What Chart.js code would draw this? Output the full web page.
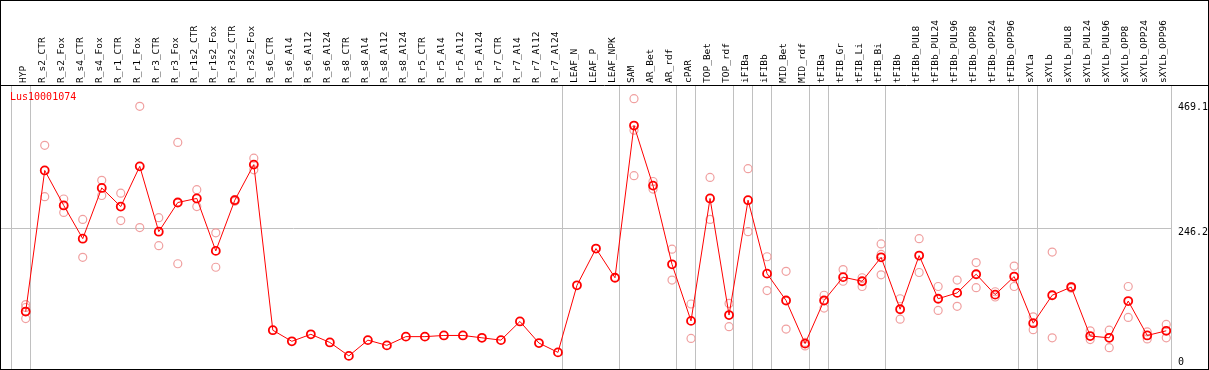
<!DOCTYPE html>
<html>
<head>
<meta charset="utf-8">
<script src="https://cdn.jsdelivr.net/npm/chart.js@4.4.1/dist/chart.umd.min.js"></script>
<style>
  body { margin: 0; background: #fff; }
</style>
</head>
<body>
<canvas id="myChart" width="1209" height="370"></canvas>
<script>
const geneName = 'Lus10001074';

const categories = [
  'HYP', 'R_s2_CTR', 'R_s2_Fox', 'R_s4_CTR', 'R_s4_Fox', 'R_r1_CTR', 'R_r1_Fox', 'R_r3_CTR', 'R_r3_Fox',
  'R_r1s2_CTR', 'R_r1s2_Fox', 'R_r3s2_CTR', 'R_r3s2_Fox', 'R_s6_CTR', 'R_s6_Al4', 'R_s6_Al12', 'R_s6_Al24',
  'R_s8_CTR', 'R_s8_Al4', 'R_s8_Al12', 'R_s8_Al24', 'R_r5_CTR', 'R_r5_Al4', 'R_r5_Al12', 'R_r5_Al24',
  'R_r7_CTR', 'R_r7_Al4', 'R_r7_Al12', 'R_r7_Al24', 'LEAF_N', 'LEAF_P', 'LEAF_NPK', 'SAM', 'AR_Bet', 'AR_rdf',
  'cPAR', 'TOP_Bet', 'TOP_rdf', 'iFIBa', 'iFIBb', 'MID_Bet', 'MID_rdf', 'tFIBa', 'tFIB_Gr', 'tFIB_Li', 'tFIB_Bi',
  'tFIBb', 'tFIBb_PUL8', 'tFIBb_PUL24', 'tFIBb_PUL96', 'tFIBb_OPP8', 'tFIBb_OPP24', 'tFIBb_OPP96',
  'sXYLa', 'sXYLb', 'sXYLb_PUL8', 'sXYLb_PUL24', 'sXYLb_PUL96', 'sXYLb_OPP8', 'sXYLb_OPP24', 'sXYLb_OPP96'
];

// mean expression (dark red line)
const meanValues = [
  104, 346, 286, 229, 316, 284, 353, 241, 291, 298, 208, 295, 356,
  72, 53, 65, 51, 28, 55, 46, 61, 61, 63, 63, 59, 55, 87, 50, 34,
  149, 212, 162, 423, 320, 185, 88, 298, 98, 295, 169, 123, 49,
  123, 163, 156, 197, 108, 200, 126, 136, 168, 133, 164,
  84, 132, 146, 62, 59, 122, 63, 71
];

// replicates (pale circles), null = none shown
const repA = [
  116, 389, 297, 262, 329, 307, 456, 265, 394, 313, 239, 296, 367,
  null, null, null, null, null, null, null, null, null, null, null, null, null, null, null, null,
  null, null, null, 469.1, 327, 211, 117, 334, 118, 349, 198, 173, 51,
  132, 176, 162, 220, 126, 229, 147, 158, 188, 138, 182,
  95, 206, 147, 71, 72, 147, 69, 82
];
const repB = [
  92, 301, 274, 197, 303, 260, 248, 217, 186, 284, 180, 293, 347,
  null, null, null, null, null, null, null, null, null, null, null, null, null, null, null, null,
  null, null, null, 337, 314, 158, 58, 262, 78, 241, 140, 74, 45,
  110, 156, 147, 167, 91, 171, 106, 113, 145, 129, 147,
  73, 59, 144, 56, 42, 94, 57, 59
];
const repC = [
  111, null, null, null, null, null, null, null, null, null, null, null, null,
  null, null, null, null, null, null, null, null, null, null, null, null, null, null, null, null,
  null, null, null, 415, null, null, null, null, null, null, null, null, null,
  null, null, null, 202, null, null, null, null, null, null, null,
  null, null, null, null, null, null, null, null
];

// last category index of each group (separator drawn after it)
const groupEnds = [-1, 0, 28, 31, 34, 35, 37, 38, 39, 41, 42, 45, 52, 53, 60];
const yTickValues = [0, 246.2, 469.1];
const yGridValues = [246.2];

const monoFont = '"DejaVu Sans Mono", monospace';

function toPoints(values) {
    return values.map((v, i) => ({ x: i, y: v })).filter(p => p.y !== null);
}

// kill the auto padding chart.js adds for rotated labels
function noPad(scale) {
    scale.paddingLeft = 0;
    scale.paddingRight = 0;
    scale.paddingTop = 0;
    scale.paddingBottom = 0;
}

const framePlugin = {
    id: 'frame',
    afterDraw(chart) {
        const { ctx, chartArea: { left, right, top, bottom }, scales: { y } } = chart;
        ctx.save();
        ctx.strokeStyle = '#000';
        ctx.lineWidth = 1;
        ctx.strokeRect(0.5, 0.5, chart.width - 1, chart.height - 1);
        ctx.beginPath();
        ctx.moveTo(0, top + 0.5);
        ctx.lineTo(chart.width, top + 0.5);
        ctx.stroke();

        // gene name
        ctx.font = '10px ' + monoFont;
        ctx.fillStyle = '#ff0000';
        ctx.textBaseline = 'middle';
        ctx.textAlign = 'left';
        ctx.fillText(geneName, left + 9, top + 12);

        // right axis labels
        ctx.fillStyle = '#000';
        yTickValues.forEach(v => {
            let py = y.getPixelForValue(v) + 4;
            py = Math.max(top + 22, Math.min(bottom - 7, py));
            ctx.fillText(String(v), right + 7, py);
        });
        ctx.restore();
    }
};

const ctx = document.getElementById('myChart').getContext('2d');

const repStyle = {
    showLine: false,
    pointRadius: 4,
    pointBorderWidth: 1.2,
    pointBorderColor: '#f0a0a0',
    pointBackgroundColor: 'rgba(0,0,0,0)'
};

new Chart(ctx, {
    type: 'line',
    data: {
        datasets: [
            {
                data: toPoints(meanValues),
                borderColor: '#ff0000',
                borderWidth: 1,
                pointRadius: 4,
                pointBorderWidth: 1.8,
                pointBorderColor: '#ff0000',
                pointBackgroundColor: 'rgba(0,0,0,0)',
                fill: false,
                tension: 0
            },
            { ...repStyle, data: toPoints(repA) },
            { ...repStyle, data: toPoints(repB) },
            { ...repStyle, data: toPoints(repC) }
        ]
    },
    options: {
        responsive: false,
        devicePixelRatio: 1,
        animation: false,
        layout: { autoPadding: false, padding: { left: 1, right: 0, top: 0, bottom: 1 } },
        plugins: {
            legend: { display: false },
            tooltip: { enabled: false }
        },
        scales: {
            x: {
                type: 'linear',
                position: 'top',
                min: -1.3,
                max: 60.25,
                afterBuildTicks: scale => { scale.ticks = categories.map((c, i) => ({ value: i })); },
                afterFit: scale => { scale.height = 85; noPad(scale); },
                ticks: {
                    autoSkip: false,
                    minRotation: 90,
                    maxRotation: 90,
                    padding: 2,
                    labelOffset: 9,
                    color: '#000',
                    font: { family: monoFont, size: 9.5 },
                    callback: value => categories[value]
                },
                grid: { display: false, drawTicks: false },
                border: { display: false }
            },
            xg: {
                type: 'linear',
                position: 'bottom',
                min: -1.3,
                max: 60.25,
                afterBuildTicks: scale => { scale.ticks = groupEnds.map(g => ({ value: g + 0.25 })); },
                afterFit: scale => { scale.height = 0; noPad(scale); },
                ticks: { display: false },
                grid: { color: '#c0c0c0', lineWidth: 1, drawTicks: false },
                border: { display: false }
            },
            y: {
                position: 'right',
                min: 5.5,
                max: 492.5,
                afterBuildTicks: scale => { scale.ticks = yGridValues.map(v => ({ value: v })); },
                afterFit: scale => { scale.width = 38; noPad(scale); },
                ticks: { display: false },
                grid: { color: '#c0c0c0', lineWidth: 1, drawTicks: false },
                border: { display: false }
            }
        }
    },
    plugins: [framePlugin]
});
</script>
</body>
</html>
